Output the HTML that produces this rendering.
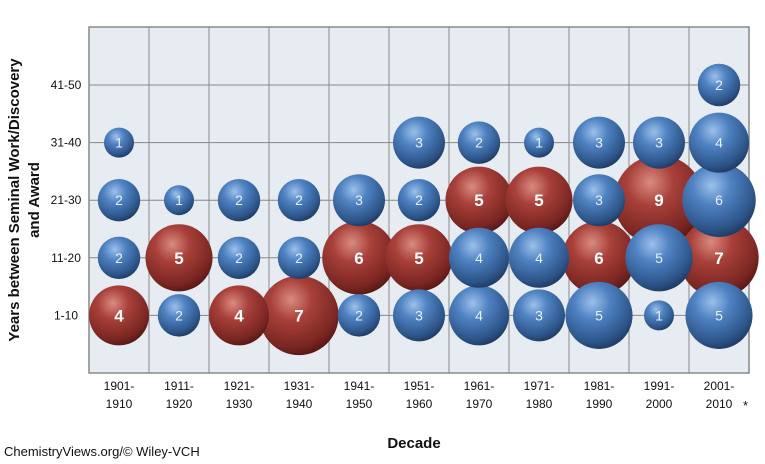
<!DOCTYPE html>
<html><head><meta charset="utf-8"><style>
body{margin:0;background:#fff;width:765px;height:459px;overflow:hidden;font-family:"Liberation Sans",sans-serif}
svg text{font-family:"Liberation Sans",sans-serif}
</style></head><body>
<svg id="chart" width="765" height="459" viewBox="0 0 765 459" xmlns="http://www.w3.org/2000/svg">
<defs>
<radialGradient id="gBlue" cx="0.4" cy="0.3" r="0.75">
<stop offset="0" stop-color="#9cc0ea"/><stop offset="0.35" stop-color="#4f82c2"/><stop offset="0.8" stop-color="#2c5488"/><stop offset="1" stop-color="#1c3558"/></radialGradient>
<radialGradient id="gRed" cx="0.4" cy="0.3" r="0.75">
<stop offset="0" stop-color="#d98a80"/><stop offset="0.35" stop-color="#a8403a"/><stop offset="0.8" stop-color="#7a2622"/><stop offset="1" stop-color="#4e1513"/></radialGradient>
</defs>
<rect x="89" y="27" width="660" height="346" fill="#e7ecf2" stroke="#888" stroke-width="1.5"/>
<g id="grid"></g>
<g id="ylabels"></g>
<g id="xlabels"></g>
<g id="bubbles"></g>
<text transform="translate(19,200) rotate(-90)" text-anchor="middle" font-size="15" font-weight="bold" fill="#111">Years between Seminal Work/Discovery</text>
<text transform="translate(39,200) rotate(-90)" text-anchor="middle" font-size="15" font-weight="bold" fill="#111">and Award</text>
<text x="414" y="448" text-anchor="middle" font-size="15" font-weight="bold" fill="#111">Decade</text>
<text x="743" y="410" font-size="13" fill="#111">*</text>
<text x="4" y="456" font-size="13" fill="#111">ChemistryViews.org/© Wiley-VCH</text>
</svg>
<script>
const decades=["1901-|1910","1911-|1920","1921-|1930","1931-|1940","1941-|1950","1951-|1960","1961-|1970","1971-|1980","1981-|1990","1991-|2000","2001-|2010"];
const rows=["1-10","11-20","21-30","31-40","41-50"];
// counts per decade for rows 1-10,11-20,21-30,31-40,41-50 (0 = none)
const counts=[
[4,2,2,1,0],[2,5,1,0,0],[4,2,2,0,0],[7,2,2,0,0],[2,6,3,0,0],[3,5,2,3,0],
[4,4,5,2,0],[3,4,5,1,0],[5,6,3,3,0],[1,5,9,3,0],[5,7,6,4,2]];
const NS="http://www.w3.org/2000/svg";
const svg=document.getElementById('chart');
const x0=89,colW=60,yBase=373,rowH=57.6;
const xc=i=>x0+colW*(i+0.5);
const yr=k=>yBase-rowH*(k+1);
const rad=n=>15*Math.sqrt(n);
function mk(t,a,p){const e=document.createElementNS(NS,t);for(const k in a)e.setAttribute(k,a[k]);p.appendChild(e);return e;}
const grid=document.getElementById('grid');
for(let i=1;i<decades.length;i++){const l=mk('line',{x1:x0+colW*i,x2:x0+colW*i,y1:27,y2:373,stroke:'#888','stroke-width':1},grid);

}
for(let k=0;k<rows.length;k++){const l=mk('line',{x1:x0,x2:749,y1:yr(k),y2:yr(k),stroke:'#888','stroke-width':1},grid);


const t=mk('text',{x:66,y:yr(k)+4,'text-anchor':'middle','font-size':12,fill:'#111'},document.getElementById('ylabels'));
t.textContent=rows[k];

}
const xl=document.getElementById('xlabels');
decades.forEach((d,i)=>{const p=d.split('|');
const t=mk('text',{x:xc(i),y:390,'text-anchor':'middle','font-size':12,fill:'#111'},xl);


mk('tspan',{x:xc(i),dy:0},t).textContent=p[0];
mk('tspan',{x:xc(i),dy:18},t).textContent=p[1];});
const items=[];
counts.forEach((c,i)=>{const mx=Math.max(...c);c.forEach((n,k)=>{if(n>0)items.push({i,k,n,red:n===mx});});});
items.sort((a,b)=>b.n-a.n);
const bg=document.getElementById('bubbles');
items.forEach(b=>{const g=mk('g',{},bg);


mk('circle',{cx:xc(b.i),cy:yr(b.k),r:rad(b.n),fill:b.red?'url(#gRed)':'url(#gBlue)'},g);
const t=mk('text',{x:xc(b.i),y:yr(b.k)+(b.red?6:5),'text-anchor':'middle','font-size':b.red?17:14,'font-weight':b.red?'bold':'normal',fill:b.red?'#fff':'#e8f0fa'},g);
t.textContent=b.n;});
</script>
</body></html>
